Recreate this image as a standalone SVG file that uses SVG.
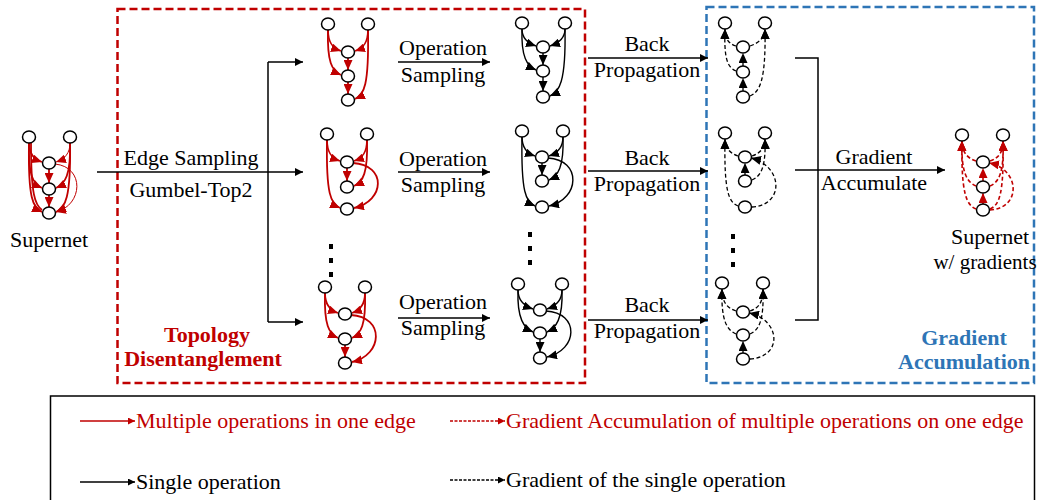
<svg xmlns="http://www.w3.org/2000/svg" width="1039" height="500" viewBox="0 0 1039 500">
<style>
text{font-family:"Liberation Serif","Times New Roman",serif;font-size:22px;fill:#000}
.red{fill:#c00000}
.blue{fill:#2e75b6}
.b{font-weight:bold}
.nd{fill:#fff;stroke:#000;stroke-width:1.5}
.er{fill:none;stroke:#c00000;stroke-width:1.8;marker-end:url(#ar)}
.erd{fill:none;stroke:#c00000;stroke-width:1.6;stroke-dasharray:4 2.5;marker-end:url(#ar)}
.eb{fill:none;stroke:#000;stroke-width:1.4;marker-end:url(#ab)}
.ebd{fill:none;stroke:#000;stroke-width:1.3;stroke-dasharray:4 2.5;marker-end:url(#ab)}
.conn{fill:none;stroke:#000;stroke-width:1.5}
.ca{marker-end:url(#ac)}
</style>
<defs>
<marker id="ar" markerUnits="userSpaceOnUse" markerWidth="11" markerHeight="9" refX="10" refY="4.5" orient="auto"><path d="M0,0 L10,4.5 L0,9 z" fill="#c00000"/></marker>
<marker id="ab" markerUnits="userSpaceOnUse" markerWidth="11" markerHeight="9" refX="10" refY="4.5" orient="auto"><path d="M0,0 L10,4.5 L0,9 z" fill="#000"/></marker>
<marker id="ac" markerUnits="userSpaceOnUse" markerWidth="9" markerHeight="8" refX="8" refY="4" orient="auto"><path d="M0,0 L8,4 L0,8 z" fill="#000"/></marker>
<marker id="lr" markerUnits="userSpaceOnUse" markerWidth="8" markerHeight="7" refX="7" refY="3.5" orient="auto"><path d="M0,0 L7,3.5 L0,7 z" fill="#c00000"/></marker>
<marker id="lb" markerUnits="userSpaceOnUse" markerWidth="8" markerHeight="7" refX="7" refY="3.5" orient="auto"><path d="M0,0 L7,3.5 L0,7 z" fill="#000"/></marker>
</defs>

<!-- frames -->
<rect x="117.5" y="9" width="467.5" height="374" fill="none" stroke="#c00000" stroke-width="2.5" stroke-dasharray="8 4"/>
<rect x="706.5" y="7" width="327.5" height="376" fill="none" stroke="#2e75b6" stroke-width="2.5" stroke-dasharray="8 4"/>

<!-- connectors -->
<g id="connectors">
<path class="conn ca" d="M97,172 L303,172"/>
<path class="conn" d="M268,62 L268,322"/>
<path class="conn ca" d="M268,62 L303,62"/>
<path class="conn ca" d="M268,322 L303,322"/>
<path class="conn ca" d="M398,62 L490,62"/>
<path class="conn ca" d="M398,172 L490,172"/>
<path class="conn ca" d="M398,318 L490,318"/>
<path class="conn ca" d="M588,58 L708,58"/>
<path class="conn ca" d="M588,171 L708,171"/>
<path class="conn ca" d="M588,320 L708,320"/>
<path class="conn" d="M795,58 L818,58 L818,320 L795,320"/>
<path class="conn ca" d="M795,170 L945,170"/>
</g>

<!-- supernet -->
<g id="supernet">
<path class="er" d="M29,143 C29,153 33,159 42,162"/>
<path class="er" d="M29,143 C28,175 33,184 42,188"/>
<path class="er" d="M29,143 C28,199 33,208 42,212"/>
<path class="er" style="marker-end:none" d="M31,143 C31,195 35,205 42,210"/>
<path class="er" style="stroke-width:1" d="M70,143 C70,153 65,159 56,162"/>
<path class="er" d="M70,143 C71,175 65,184 56,188"/>
<path class="er" d="M70,143 C71,199 65,208 56,212"/>
<path class="er" d="M49,169 L49,183"/>
<path class="er" d="M49,195 L49,207"/>
<path class="er" style="stroke-width:1" d="M55,164 C85,167 83,205 56,212"/>
<ellipse class="nd" cx="29" cy="137" rx="6.5" ry="6"/>
<ellipse class="nd" cx="70" cy="137" rx="6.5" ry="6"/>
<ellipse class="nd" cx="49" cy="163" rx="6.5" ry="6"/>
<ellipse class="nd" cx="49" cy="189" rx="6.5" ry="6"/>
<ellipse class="nd" cx="49" cy="213" rx="6.5" ry="6"/>
</g>
<text x="49" y="247" text-anchor="middle">Supernet</text>

<!-- red graphs -->
<g id="red1">
<path class="er" d="M328,30 C328,42 332,48 341,51"/>
<path class="er" d="M328,30 C327,62 332,71 341,75"/>
<path class="er" d="M368,30 C368,42 364,48 355,51"/>
<path class="er" d="M368,30 C369,86 364,95 355,99"/>
<path class="er" d="M348,58 L348,70"/>
<path class="er" d="M348,82 L348,94"/>
<ellipse class="nd" cx="328" cy="24" rx="6.5" ry="6"/>
<ellipse class="nd" cx="368" cy="24" rx="6.5" ry="6"/>
<ellipse class="nd" cx="348" cy="52" rx="6.5" ry="6"/>
<ellipse class="nd" cx="348" cy="76" rx="6.5" ry="6"/>
<ellipse class="nd" cx="348" cy="100" rx="6.5" ry="6"/>
</g>
<g id="red2">
<path class="er" d="M327,140 C327,152 331,158 340,161"/>
<path class="er" d="M327,140 C326,195 331,204 340,208"/>
<path class="er" d="M367,140 C367,152 363,158 354,161"/>
<path class="er" d="M367,140 C368,173 363,182 354,186"/>
<path class="er" d="M347,168 L347,181"/>
<path class="er" d="M353,163 C387,165 385,201 354,208"/>
<ellipse class="nd" cx="327" cy="134" rx="6.5" ry="6"/>
<ellipse class="nd" cx="367" cy="134" rx="6.5" ry="6"/>
<ellipse class="nd" cx="347" cy="162" rx="6.5" ry="6"/>
<ellipse class="nd" cx="347" cy="187" rx="6.5" ry="6"/>
<ellipse class="nd" cx="347" cy="209" rx="6.5" ry="6"/>
</g>
<g id="red3">
<path class="er" d="M325,293 C325,304 329,310 338,313"/>
<path class="er" d="M325,293 C324,325 329,334 338,338"/>
<path class="er" d="M365,293 C365,304 361,310 352,313"/>
<path class="er" d="M365,293 C366,325 361,334 352,338"/>
<path class="er" d="M345,345 L345,357"/>
<path class="er" d="M351,315 C385,317 383,355 352,362"/>
<ellipse class="nd" cx="325" cy="287" rx="6.5" ry="6"/>
<ellipse class="nd" cx="365" cy="287" rx="6.5" ry="6"/>
<ellipse class="nd" cx="345" cy="314" rx="6.5" ry="6"/>
<ellipse class="nd" cx="345" cy="339" rx="6.5" ry="6"/>
<ellipse class="nd" cx="345" cy="363" rx="6.5" ry="6"/>
</g>

<!-- black graphs -->
<g id="black1">
<path class="eb" d="M522,29 C522,37 527,43 536,46"/>
<path class="eb" d="M522,29 C521,57 527,66 536,70"/>
<path class="eb" d="M565,29 C565,37 559,43 550,46"/>
<path class="eb" d="M565,29 C566,83 559,92 550,96"/>
<path class="eb" d="M543,53 L543,65"/>
<path class="eb" d="M543,77 L543,91"/>
<ellipse class="nd" cx="522" cy="23" rx="6.5" ry="6"/>
<ellipse class="nd" cx="565" cy="23" rx="6.5" ry="6"/>
<ellipse class="nd" cx="543" cy="47" rx="6.5" ry="6"/>
<ellipse class="nd" cx="543" cy="71" rx="6.5" ry="6"/>
<ellipse class="nd" cx="543" cy="97" rx="6.5" ry="6"/>
</g>
<g id="black2">
<path class="eb" d="M522,137 C522,147 526,153 535,156"/>
<path class="eb" d="M522,137 C521,193 526,202 535,206"/>
<path class="eb" d="M563,137 C563,147 558,153 549,156"/>
<path class="eb" d="M563,137 C564,167 558,176 549,180"/>
<path class="eb" d="M542,163 L542,175"/>
<path class="eb" d="M548,158 C582,160 580,199 549,206"/>
<ellipse class="nd" cx="522" cy="131" rx="6.5" ry="6"/>
<ellipse class="nd" cx="563" cy="131" rx="6.5" ry="6"/>
<ellipse class="nd" cx="542" cy="157" rx="6.5" ry="6"/>
<ellipse class="nd" cx="542" cy="181" rx="6.5" ry="6"/>
<ellipse class="nd" cx="542" cy="207" rx="6.5" ry="6"/>
</g>
<g id="black3">
<path class="eb" d="M518,290 C518,300 524,306 533,309"/>
<path class="eb" d="M518,290 C517,319 524,328 533,332"/>
<path class="eb" d="M562,290 C562,300 556,306 547,309"/>
<path class="eb" d="M562,290 C563,319 556,328 547,332"/>
<path class="eb" d="M540,339 L540,352"/>
<path class="eb" d="M546,311 C580,313 578,350 547,357"/>
<ellipse class="nd" cx="518" cy="284" rx="6.5" ry="6"/>
<ellipse class="nd" cx="562" cy="284" rx="6.5" ry="6"/>
<ellipse class="nd" cx="540" cy="310" rx="6.5" ry="6"/>
<ellipse class="nd" cx="540" cy="333" rx="6.5" ry="6"/>
<ellipse class="nd" cx="540" cy="358" rx="6.5" ry="6"/>
</g>

<!-- dashed graphs -->
<g id="grad1">
<path class="ebd" d="M736,46 C727,43 725,37 725,29"/>
<path class="ebd" d="M736,71 C727,67 724,58 725,29"/>
<path class="ebd" d="M750,46 C759,43 765,37 765,29"/>
<path class="ebd" d="M750,96 C759,92 766,83 765,29"/>
<path class="ebd" d="M743,66 L743,53"/>
<path class="ebd" d="M743,91 L743,78"/>
<ellipse class="nd" cx="725" cy="23" rx="6.5" ry="6"/>
<ellipse class="nd" cx="765" cy="23" rx="6.5" ry="6"/>
<ellipse class="nd" cx="743" cy="47" rx="6.5" ry="6"/>
<ellipse class="nd" cx="743" cy="72" rx="6.5" ry="6"/>
<ellipse class="nd" cx="743" cy="97" rx="6.5" ry="6"/>
</g>
<g id="grad2">
<path class="ebd" d="M738,156 C729,153 725,147 725,139"/>
<path class="ebd" d="M738,206 C729,202 724,193 725,139"/>
<path class="ebd" d="M752,156 C761,153 765,147 765,139"/>
<path class="ebd" d="M752,180 C761,176 766,167 765,139"/>
<path class="ebd" d="M745,175 L745,163"/>
<path class="ebd" d="M752,207 C785,205 783,166 751,158"/>
<ellipse class="nd" cx="725" cy="133" rx="6.5" ry="6"/>
<ellipse class="nd" cx="765" cy="133" rx="6.5" ry="6"/>
<ellipse class="nd" cx="745" cy="157" rx="6.5" ry="6"/>
<ellipse class="nd" cx="745" cy="181" rx="6.5" ry="6"/>
<ellipse class="nd" cx="745" cy="207" rx="6.5" ry="6"/>
</g>
<g id="grad3">
<path class="ebd" d="M736,311 C727,308 722,302 722,289"/>
<path class="ebd" d="M736,334 C727,330 721,321 722,289"/>
<path class="ebd" d="M750,311 C759,308 763,302 763,289"/>
<path class="ebd" d="M750,334 C759,330 764,321 763,289"/>
<path class="ebd" d="M743,353 L743,341"/>
<path class="ebd" d="M750,359 C783,357 781,320 749,313"/>
<ellipse class="nd" cx="722" cy="283" rx="6.5" ry="6"/>
<ellipse class="nd" cx="763" cy="283" rx="6.5" ry="6"/>
<ellipse class="nd" cx="743" cy="312" rx="6.5" ry="6"/>
<ellipse class="nd" cx="743" cy="335" rx="6.5" ry="6"/>
<ellipse class="nd" cx="743" cy="359" rx="6.5" ry="6"/>
</g>

<!-- result supernet -->
<g id="supernet-grad">
<path class="erd" d="M976,161 C967,158 962,152 962,141"/>
<path class="erd" d="M976,186 C967,182 961,173 962,141"/>
<path class="erd" d="M976,209 C967,205 961,196 962,141"/>
<path class="erd" d="M990,161 C999,158 1003,152 1003,141"/>
<path class="erd" d="M990,186 C999,182 1004,173 1003,141"/>
<path class="erd" d="M990,209 C999,205 1004,196 1003,141"/>
<path class="erd" d="M983,181 L983,168"/>
<path class="erd" d="M983,204 L983,193"/>
<path class="erd" d="M990,210 C1022,208 1020,169 989,163"/>
<ellipse class="nd" cx="962" cy="135" rx="6.5" ry="6"/>
<ellipse class="nd" cx="1003" cy="135" rx="6.5" ry="6"/>
<ellipse class="nd" cx="983" cy="162" rx="6.5" ry="6"/>
<ellipse class="nd" cx="983" cy="187" rx="6.5" ry="6"/>
<ellipse class="nd" cx="983" cy="210" rx="6.5" ry="6"/>
</g>

<!-- vertical ellipses -->
<g id="dots" fill="#000">
<rect x="329" y="244" width="4" height="5"/><rect x="329" y="258" width="4" height="5"/><rect x="329" y="272" width="4" height="5"/>
<rect x="528" y="232" width="4" height="5"/><rect x="528" y="246" width="4" height="5"/><rect x="528" y="260" width="4" height="5"/>
<rect x="731" y="234" width="4" height="5"/><rect x="731" y="248" width="4" height="5"/><rect x="731" y="262" width="4" height="5"/>
</g>

<!-- labels -->
<text x="191" y="165" text-anchor="middle">Edge Sampling</text>
<text x="191" y="197" text-anchor="middle">Gumbel-Top2</text>
<text x="443" y="55" text-anchor="middle">Operation</text>
<text x="443" y="82" text-anchor="middle">Sampling</text>
<text x="443" y="166" text-anchor="middle">Operation</text>
<text x="443" y="192" text-anchor="middle">Sampling</text>
<text x="443" y="309" text-anchor="middle">Operation</text>
<text x="443" y="335" text-anchor="middle">Sampling</text>
<text x="647" y="51" text-anchor="middle">Back</text>
<text x="647" y="77" text-anchor="middle">Propagation</text>
<text x="647" y="165" text-anchor="middle">Back</text>
<text x="647" y="191" text-anchor="middle">Propagation</text>
<text x="647" y="312" text-anchor="middle">Back</text>
<text x="647" y="338" text-anchor="middle">Propagation</text>
<text x="874" y="164" text-anchor="middle">Gradient</text>
<text x="874" y="190" text-anchor="middle">Accumulate</text>
<text x="990" y="244" text-anchor="middle">Supernet</text>
<text x="985" y="269" text-anchor="middle" style="font-size:21px">w/ gradients</text>
<text class="red b" x="207" y="342" text-anchor="middle">Topology</text>
<text class="red b" x="203" y="366" text-anchor="middle">Disentanglement</text>
<text class="blue b" x="964" y="345" text-anchor="middle">Gradient</text>
<text class="blue b" x="964" y="369" text-anchor="middle">Accumulation</text>

<!-- legend -->
<g id="legend">
<rect x="50.5" y="396" width="984" height="110" fill="none" stroke="#000" stroke-width="1.5"/>
<path d="M80,421 L135,421" stroke="#c00000" stroke-width="1.5" fill="none" marker-end="url(#lr)"/>
<text class="red" x="136" y="428">Multiple operations in one edge</text>
<path d="M450,421 L505,421" stroke="#c00000" stroke-width="1.3" stroke-dasharray="3 1.5" fill="none" marker-end="url(#lr)"/>
<text class="red" x="506" y="428">Gradient Accumulation of multiple operations on one edge</text>
<path d="M80,482 L135,482" stroke="#000" stroke-width="1.5" fill="none" marker-end="url(#lb)"/>
<text x="136" y="489">Single operation</text>
<path d="M450,480 L505,480" stroke="#000" stroke-width="1.3" stroke-dasharray="3 1.5" fill="none" marker-end="url(#lb)"/>
<text x="506" y="487">Gradient of the single operation</text>
</g>
</svg>
